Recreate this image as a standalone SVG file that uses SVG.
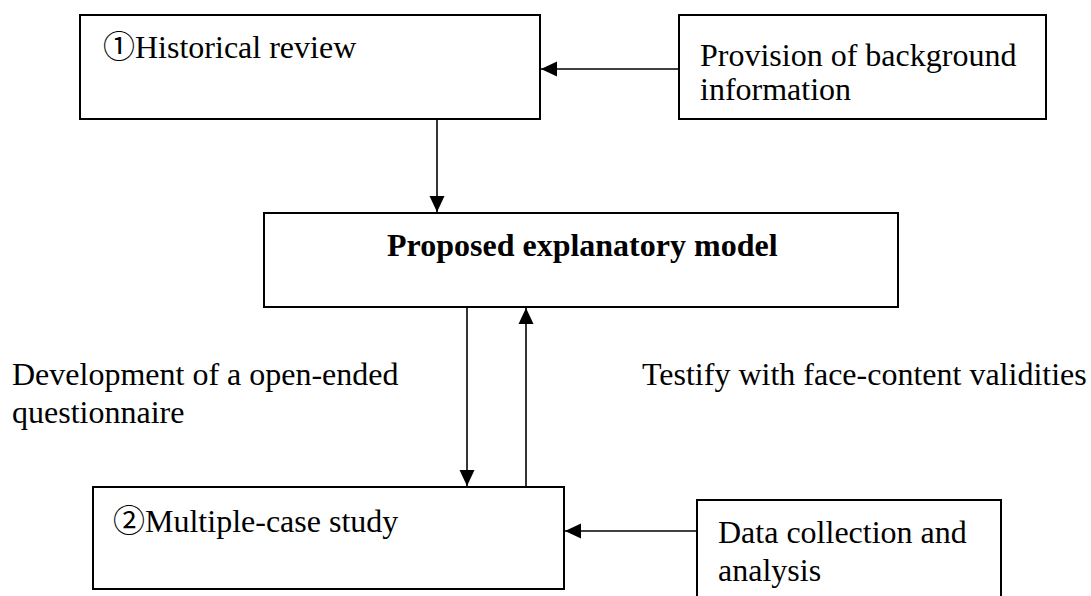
<svg xmlns="http://www.w3.org/2000/svg" width="1091" height="596" viewBox="0 0 1091 596">
  <style>
    .box { fill: #ffffff; stroke: #000000; stroke-width: 2; }
    .txt { font-family: "Liberation Serif", "Noto Sans CJK SC", serif; font-size: 32px; fill: #000000; }
    .bold { font-weight: bold; }
    .link { stroke: #000000; stroke-width: 1.6; fill: none; marker-end: url(#arrow); }
  </style>
  <defs>
    <marker id="arrow" markerUnits="userSpaceOnUse" markerWidth="16" markerHeight="16" viewBox="0 0 16 16" refX="16" refY="8" orient="auto">
      <path d="M0,0.5 L16,8 L0,15.5 Z" fill="#000000"/>
    </marker>
  </defs>

  <rect width="1091" height="596" fill="#ffffff"/>

  <!-- connectors -->
  <g id="connectors">
    <line class="link" x1="679" y1="69" x2="541" y2="69"/>
    <line class="link" x1="437" y1="119" x2="437" y2="212"/>
    <line class="link" x1="467" y1="307" x2="467" y2="486"/>
    <line class="link" x1="526" y1="487" x2="526" y2="308"/>
    <line class="link" x1="697" y1="531" x2="565" y2="531"/>
  </g>

  <g id="historical-review">
    <rect class="box" x="80" y="15" width="460" height="104"/>
    <text class="txt" x="103" y="58">①Historical review</text>
  </g>

  <g id="background-info">
    <rect class="box" x="679" y="15" width="367" height="104"/>
    <text class="txt" x="700" y="66">Provision of background</text>
    <text class="txt" x="700" y="100">information</text>
  </g>

  <g id="explanatory-model">
    <rect class="box" x="264" y="213" width="634" height="94"/>
    <text class="txt bold" x="387" y="256">Proposed explanatory model</text>
  </g>

  <g id="label-questionnaire">
    <text class="txt" x="12" y="385">Development of a open-ended</text>
    <text class="txt" x="12" y="423">questionnaire</text>
  </g>

  <g id="label-validities">
    <text class="txt" x="642" y="385">Testify with face-content validities</text>
  </g>

  <g id="case-study">
    <rect class="box" x="93" y="487" width="471" height="102"/>
    <text class="txt" x="113" y="532">②Multiple-case study</text>
  </g>

  <g id="data-collection">
    <rect class="box" x="697" y="500" width="304" height="110"/>
    <text class="txt" x="718" y="543">Data collection and</text>
    <text class="txt" x="718" y="581">analysis</text>
  </g>
</svg>
